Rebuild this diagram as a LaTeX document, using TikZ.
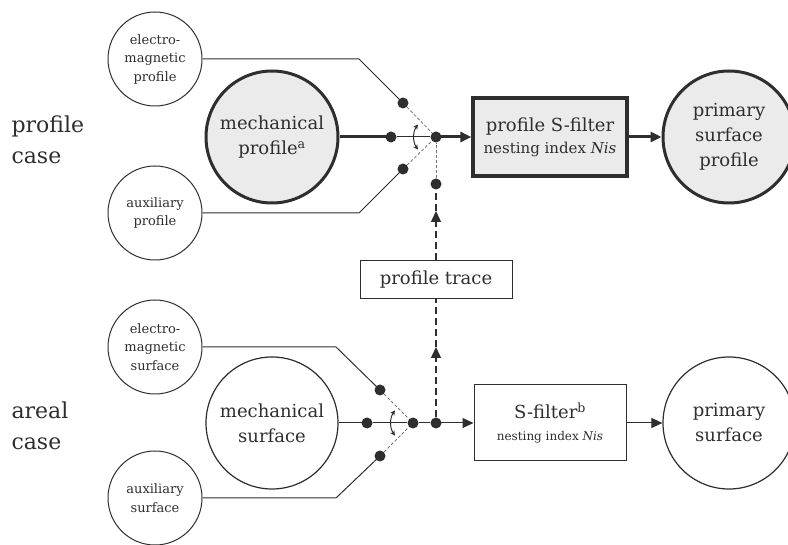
\documentclass[tikz,border=0pt]{standalone}
\usepackage{fontspec}
\setmainfont{DejaVu Serif}
\usetikzlibrary{arrows.meta,positioning}

\definecolor{ink}{HTML}{2E2E2E}
\definecolor{shade}{HTML}{EBEBEB}
\definecolor{tapgray}{HTML}{777777}

\tikzset{
  round/.style={circle, draw=ink, text=ink, align=center, inner sep=0pt},
  sidecirc/.style={round, line width=1pt, minimum size=94pt,
    font=\fontsize{13}{18.5}\selectfont},
  surfcirc/.style={round, line width=1.2pt, minimum size=132pt,
    font=\fontsize{18}{25}\selectfont},
  profcirc/.style={surfcirc, line width=3pt, fill=shade},
  filterbox/.style={rectangle, draw=ink, text=ink, align=center,
    line width=1pt, minimum width=152pt, minimum height=76pt},
  dot/.style={circle, fill=ink, inner sep=0pt, minimum size=11pt},
  wire/.style={draw=ink, line width=1pt},
  boldwire/.style={draw=ink, line width=3pt},
  tap/.style={draw=tapgray, line width=0.8pt, dash pattern=on 3pt off 2pt},
  tracewire/.style={draw=ink, line width=1.4pt, dash pattern=on 7pt off 4pt},
  tip/.style={-{Triangle[length=11pt,width=10pt]}},
  swing/.style={draw=ink, line width=1pt,
    {Stealth[length=5pt,width=5pt]}-{Stealth[length=5pt,width=5pt]}},
  casefont/.style={text=ink, align=left, anchor=west,
    font=\fontsize{22}{31}\selectfont}
}

\begin{document}
\begin{tikzpicture}[x=1pt,y=-1pt]
  \useasboundingbox (0,0) rectangle (788,545);

  % Case labels
  \node[casefont] (pcase) at (8,140) {profile\\case};
  \node[casefont] (acase) at (8,426) {areal\\case};

  % Profile case
  \node[sidecirc] (emp) at (155,59) {electro-\\magnetic\\profile};
  \node[profcirc] (mp) at (272,137) {mechanical\\profile\textsuperscript{a}};
  \node[sidecirc] (ap) at (155,213) {auxiliary\\profile};
  \node[filterbox, line width=3.2pt, fill=shade, minimum width=154pt, minimum height=78pt,
    font=\fontsize{18}{22}\selectfont] (psf) at (550,137)
    {profile S-filter\\{\fontsize{15}{22}\selectfont nesting index \textit{Nis}}};
  \node[profcirc] (psp) at (729,137) {primary\\surface\\profile};

  \node[dot] (pd1) at (403,103) {};
  \node[dot] (pd2) at (391,137) {};
  \node[dot] (pd3) at (403,169) {};
  \node[dot] (pj) at (436,137) {};
  \node[dot] (pt) at (436,184) {};
  \coordinate (pb1) at (359,59);
  \coordinate (pb3) at (359,213);

  \draw[wire] (emp.east) -- (pb1) -- (pd1.center);
  \draw[wire] (ap.east) -- (pb3) -- (pd3.center);
  \draw[boldwire] (mp.east) -- (pd2.center);
  \draw[wire] (pd2) -- (pj);
  \draw[tap] (pd1) -- (pj);
  \draw[tap] (pd3) -- (pj);
  \draw[tap] (pt) -- (pj);
  \draw[swing] ([shift={(145:22)}]pj.center) arc (145:215:22);
  \draw[boldwire, tip] (pj.center) -- (psf.west);
  \draw[boldwire, tip] (psf.east) -- (psp.west);

  % Profile trace
  \node[rectangle, draw=ink, text=ink, line width=1pt, minimum width=152pt,
    minimum height=38pt, font=\fontsize{18}{22}\selectfont] (tr) at (436,280) {profile trace};
  \coordinate (tup) at (436,211);
  \coordinate (tlo) at (436,347);
  \draw[tracewire, tip] (tr.north) -- (tup);
  \draw[tracewire] (tup) -- (pt);

  % Areal case
  \node[sidecirc] (ems) at (155,347) {electro-\\magnetic\\surface};
  \node[surfcirc] (ms) at (272,423) {mechanical\\surface};
  \node[sidecirc] (as) at (155,498) {auxiliary\\surface};
  \node[filterbox, font=\fontsize{18}{22}\selectfont] (sf) at (550,423)
    {S-filter\textsuperscript{b}\\{\fontsize{12}{16}\selectfont nesting index \textit{Nis}}};
  \node[surfcirc] (ps) at (729,423) {primary\\surface};

  \node[dot] (sd1) at (380,390) {};
  \node[dot] (sd2) at (367,423) {};
  \node[dot] (sd3) at (380,456) {};
  \node[dot] (sj) at (413,423) {};
  \node[dot] (st) at (436,423) {};
  \coordinate (sb1) at (336,347);
  \coordinate (sb3) at (336,498);

  \draw[wire] (ems.east) -- (sb1) -- (sd1.center);
  \draw[wire] (as.east) -- (sb3) -- (sd3.center);
  \draw[wire] (ms.east) -- (sd2.center);
  \draw[wire] (sd2) -- (sj) -- (st);
  \draw[tap] (sd1) -- (sj);
  \draw[tap] (sd3) -- (sj);
  \draw[swing] ([shift={(145:22)}]sj.center) arc (145:215:22);
  \draw[wire, tip] (st.center) -- (sf.west);
  \draw[wire, tip] (sf.east) -- (ps.west);

  \draw[tracewire, tip] (st) -- (tlo);
  \draw[tracewire] (tlo) -- (tr.south);
\end{tikzpicture}
\end{document}
